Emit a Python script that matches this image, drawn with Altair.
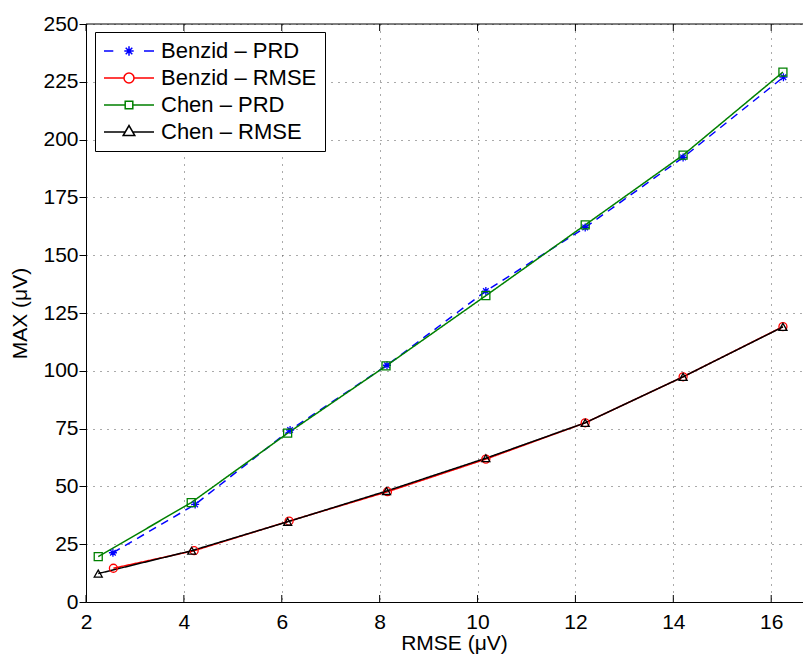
import altair as alt
import pandas as pd

# ---------------- data ----------------
series_names = ["Benzid – PRD", "Benzid – RMSE", "Chen – PRD", "Chen – RMSE"]

benzid_prd_x = [2.55, 4.23, 6.17, 8.15, 10.17, 12.20, 14.20, 16.25]
benzid_prd_y = [21.3, 42.2, 74.4, 102.4, 134.5, 162.0, 192.3, 227.0]

benzid_rmse_x = [2.56, 4.21, 6.15, 8.16, 10.17, 12.20, 14.20, 16.24]
benzid_rmse_y = [14.6, 22.2, 35.0, 47.7, 61.8, 77.5, 97.4, 119.1]

chen_prd_x = [2.25, 4.15, 6.12, 8.13, 10.17, 12.20, 14.20, 16.24]
chen_prd_y = [19.6, 43.0, 73.0, 102.1, 132.5, 163.1, 193.3, 229.2]

chen_rmse_x = [2.25, 4.16, 6.12, 8.14, 10.17, 12.20, 14.20, 16.24]
chen_rmse_y = [12.3, 22.2, 34.7, 48.0, 62.2, 77.5, 97.4, 119.0]

x_ticks = [2, 4, 6, 8, 10, 12, 14, 16]
y_ticks = [0, 25, 50, 75, 100, 125, 150, 175, 200, 225, 250]

rows = []
for name, xs, ys in zip(
    series_names,
    [benzid_prd_x, benzid_rmse_x, chen_prd_x, chen_rmse_x],
    [benzid_prd_y, benzid_rmse_y, chen_prd_y, chen_rmse_y],
):
    for i, (a, b) in enumerate(zip(xs, ys)):
        rows.append({"series": name, "x": a, "y": b, "order": i})
df = pd.DataFrame(rows)

# ---------------- styling ----------------
FONT = "Liberation Sans"
FS = 21
colors = ["#0000ff", "#ff0000", "#008000", "#000000"]

ASTERISK = "M-1,0H1M0,-1V1M-0.7,-0.7L0.7,0.7M-0.7,0.7L0.7,-0.7"
# legend symbols: unit = 10 px (symbolSize 400), span -2.5..2.5 = 50 px
legend_paths = [
    # dashed line + asterisk
    "M-2.5,0H-1.57M1.5,0H2.5M-0.47,0H0.47M0,-0.47V0.47M-0.33,-0.33L0.33,0.33M-0.33,0.33L0.33,-0.33",
    # line + circle
    "M-2.5,0H-0.5M0.5,0H2.5M0.5,0A0.5,0.5 0 1,1 -0.5,0A0.5,0.5 0 1,1 0.5,0",
    # line + square
    "M-2.5,0H-0.38M0.38,0H2.5M-0.38,-0.38H0.38V0.38H-0.38Z",
    # line + triangle
    "M-2.5,0H-0.38M0.38,0H2.5M-0.58,0.35L0,-0.65L0.58,0.35Z",
]

x_scale = alt.Scale(domain=[2, 16.65], nice=False, zero=False)
y_scale = alt.Scale(domain=[0, 250], nice=False, zero=False)

common_axis = dict(
    grid=True, gridDash=[1, 6], gridColor="#555555", gridWidth=1,
    domainColor="black", domainWidth=1,
    labelFont=FONT, labelFontSize=FS, labelColor="black",
    titleFont=FONT, titleFontSize=FS, titleFontWeight="normal", titleColor="black",
    labelOverlap=False,
)
x_axis = alt.Axis(values=x_ticks, ticks=False, labelPadding=9, labelFlush=False,
                  titleX=368, titleY=47, titleBaseline="alphabetic", titleAlign="center",
                  **common_axis)
y_axis = alt.Axis(values=y_ticks, ticks=True, tickSize=7, tickColor="black", labelPadding=1,
                  titleX=-66, titleY=289, titleAngle=270, titleBaseline="middle",
                  titleAlign="center", **common_axis)

X = alt.X("x:Q", scale=x_scale, axis=x_axis, title="RMSE (μV)")
Y = alt.Y("y:Q", scale=y_scale, axis=y_axis, title="MAX (μV)")

color_scale = alt.Scale(domain=series_names, range=colors)

lines = alt.Chart(df).mark_line(strokeWidth=1.5).encode(
    x=X, y=Y,
    color=alt.Color("series:N", scale=color_scale, legend=None),
    strokeDash=alt.StrokeDash("series:N",
                              scale=alt.Scale(domain=series_names,
                                              range=[[8, 6], [1, 0], [1, 0], [1, 0]]),
                              legend=None),
    order="order:Q",
)

points = alt.Chart(df).mark_point(filled=False, strokeWidth=1.3, opacity=1).encode(
    x=X, y=Y,
    color=alt.Color("series:N", scale=color_scale, legend=None),
    shape=alt.Shape("series:N",
                    scale=alt.Scale(domain=series_names,
                                    range=[ASTERISK, "circle", "square", "triangle-up"]),
                    legend=None),
    size=alt.Size("series:N", scale=alt.Scale(domain=series_names, range=[64, 64, 69, 114]),
                  legend=None),
)

leg = alt.Legend(
    title=None, orient="none", legendX=9, legendY=8,
    symbolSize=400, symbolStrokeWidth=1.5, symbolOffset=15,
    labelFont=FONT, labelFontSize=22, labelColor="black", labelLimit=400, labelOffset=21,
    strokeColor="black", fillColor="white", padding=8, rowPadding=5,
)

legend_layer = alt.Chart(df).transform_filter("false").mark_point(
    filled=False, opacity=1
).encode(
    x=X, y=Y,
    color=alt.Color("series:N", scale=color_scale, legend=leg),
    shape=alt.Shape("series:N", scale=alt.Scale(domain=series_names, range=legend_paths),
                    legend=leg),
)

border_df = pd.DataFrame({"y": [250]})
top_border = alt.Chart(border_df).mark_rule(color="black", strokeWidth=1).encode(y=Y)

ticks_df = pd.DataFrame({"x": x_ticks, "ybot": [0] * len(x_ticks), "ytop": [250] * len(x_ticks)})
bottom_ticks = alt.Chart(ticks_df).mark_rule(color="black", strokeWidth=1).encode(
    x=X,
    y=alt.Y("ybot:Q", scale=y_scale, axis=y_axis, title="MAX (μV)"),
    y2=alt.value(571),
)
top_ticks = alt.Chart(ticks_df).mark_rule(color="black", strokeWidth=1).encode(
    x=X,
    y=alt.Y("ytop:Q", scale=y_scale, axis=y_axis, title="MAX (μV)"),
    y2=alt.value(7),
)

chart = (
    alt.layer(lines, points, legend_layer, top_border, bottom_ticks, top_ticks)
    .resolve_scale(color="independent", shape="independent")
    .properties(
        width=717, height=578,
        autosize=alt.AutoSizeParams(type="none"),
        padding={"left": 78, "top": 16, "right": 0, "bottom": 52},
        background="white",
    )
    .configure(font=FONT)
    .configure_view(stroke=None)
)

chart.save("out.html", embed_options={"renderer": "svg", "actions": False})
